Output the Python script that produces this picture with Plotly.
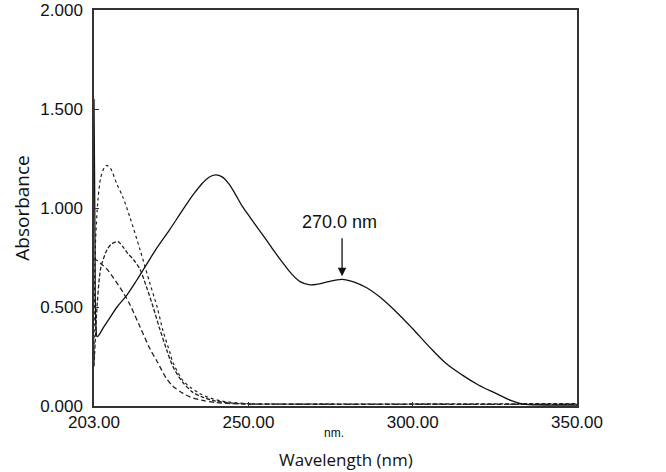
import plotly.graph_objects as go

# Solid spectrum
wl_solid = [203.0, 203.3, 203.6, 204.0, 206, 208, 210, 213, 216, 219, 222, 226, 229, 232, 234, 236, 238, 240, 242,
            244, 246, 248, 250.5, 253, 255.6, 258, 260.6, 263, 265.7, 268.7, 271, 274, 278.5, 282, 286, 290, 295,
            300, 305, 310, 315, 320, 325, 330, 333.5, 340, 350]
abs_solid = [1.55, 0.85, 0.40, 0.35, 0.40, 0.45, 0.50, 0.56, 0.635, 0.715, 0.795, 0.89, 0.965, 1.04, 1.085, 1.125, 1.155, 1.167, 1.157,
             1.123, 1.07, 1.012, 0.953, 0.895, 0.835, 0.778, 0.72, 0.67, 0.628, 0.612, 0.615, 0.627, 0.64, 0.627, 0.597, 0.55, 0.475,
             0.39, 0.30, 0.217, 0.157, 0.106, 0.066, 0.027, 0.009, 0.005, 0.005]

# Dotted spectrum
wl_dot = [203.0, 203.4, 204.2, 205, 206, 206.8, 208, 210, 211.8, 214, 217, 220, 222.2, 224, 226.1, 227, 230,
          232.2, 235, 237.4, 242, 250, 260, 280, 300, 320, 350]
abs_dot = [0.22, 0.80, 1.04, 1.15, 1.20, 1.215, 1.20, 1.12, 1.055, 0.95, 0.79, 0.62, 0.50, 0.38, 0.27, 0.22, 0.13,
           0.096, 0.065, 0.046, 0.025, 0.012, 0.01, 0.01, 0.01, 0.008, 0.008]

# Short-dashed spectrum
wl_dash = [203.0, 203.2, 204, 205.1, 207, 208.5, 210.3, 212, 213.3, 215, 217, 219, 221, 223, 225.2, 227, 230,
           233, 236, 240, 245, 250, 270, 300, 350]
abs_dash = [0.20, 0.27, 0.52, 0.70, 0.79, 0.82, 0.83, 0.80, 0.77, 0.74, 0.69, 0.60, 0.50, 0.39, 0.28, 0.20, 0.12,
            0.07, 0.045, 0.025, 0.015, 0.01, 0.01, 0.01, 0.012]

# Long-dashed spectrum
wl_ldash = [203.0, 203.15, 205, 207, 209, 211.8, 214, 217, 220, 222.2, 225, 227, 230, 232.2, 236, 240, 245, 250,
            300, 350]
abs_ldash = [0.25, 0.74, 0.72, 0.69, 0.645, 0.575, 0.51, 0.40, 0.29, 0.225, 0.14, 0.10, 0.065, 0.046, 0.028, 0.018,
             0.012, 0.01, 0.008, 0.008]

x_ticks = [203, 250, 300, 350]
x_tick_text = ["203.00", "250.00", "300.00", "350.00"]
y_ticks = [0, 0.5, 1.0, 1.5, 2.0]
y_tick_text = ["0.000", "0.500", "1.000", "1.500", "2.000"]

x_title = "Wavelength (nm)"
y_title = "Absorbance"
peak_label = "270.0 nm"
peak_x = 278.5
peak_y = 0.655

fig = go.Figure()
fig.add_trace(go.Scatter(x=wl_ldash, y=abs_ldash, mode="lines",
                         line=dict(color="#222", width=1.3, dash="5px,3px", shape="spline", smoothing=0.8)))
fig.add_trace(go.Scatter(x=wl_dash, y=abs_dash, mode="lines",
                         line=dict(color="#222", width=1.3, dash="4px,2px", shape="spline", smoothing=0.8)))
fig.add_trace(go.Scatter(x=wl_dot, y=abs_dot, mode="lines",
                         line=dict(color="#222", width=1.2, dash="dot", shape="spline", smoothing=0.8)))
fig.add_trace(go.Scatter(x=wl_solid, y=abs_solid, mode="lines",
                         line=dict(color="#111", width=1.3, shape="spline", smoothing=1.0)))

fig.add_annotation(x=peak_x, y=peak_y, ax=peak_x, ay=0.855, xref="x", yref="y", axref="x", ayref="y",
                   showarrow=True, arrowhead=2, arrowsize=1.3, arrowwidth=1.3, arrowcolor="#111", text="")
fig.add_annotation(x=277.6, y=0.93, xref="x", yref="y", text=peak_label, showarrow=False,
                   font=dict(family="Liberation Sans, Arial", size=18, color="#111"))
fig.add_annotation(x=0.497, y=-0.068, xref="paper", yref="paper", xanchor="center", yanchor="middle",
                   text="nm.", showarrow=False,
                   font=dict(family="Liberation Sans, Arial", size=12, color="#111"))
fig.add_annotation(x=0.522, y=-0.136, xref="paper", yref="paper", xanchor="center", yanchor="middle",
                   text=x_title, showarrow=False,
                   font=dict(family="Open Sans, Noto Sans", size=17, color="#111"))

fig.update_layout(
    width=666, height=472,
    margin=dict(l=94, r=89, t=10, b=66, autoexpand=False),
    paper_bgcolor="white", plot_bgcolor="white",
    showlegend=False,
    font=dict(family="Liberation Sans, Arial", size=17, color="#111"),
)
fig.update_xaxes(range=[203, 350], tickvals=x_ticks, ticktext=x_tick_text, automargin=False,
                 showgrid=False, zeroline=False, showline=True, linecolor="#333", linewidth=1.5, mirror=True,
                 ticks="inside", ticklen=4, tickcolor="#333", ticklabelstandoff=0,
                 tickfont=dict(family="Liberation Sans, Arial", size=17, color="#111"))
fig.update_yaxes(range=[0, 2.0], tickvals=y_ticks, ticktext=y_tick_text, automargin=False,
                 showgrid=False, zeroline=False, showline=True, linecolor="#333", linewidth=1.5, mirror=True,
                 ticks="inside", ticklen=5, tickcolor="#333", ticklabelstandoff=6,
                 tickfont=dict(family="Liberation Sans, Arial", size=17, color="#111"),
                 title=dict(text=y_title, standoff=6,
                            font=dict(family="Open Sans, Noto Sans", size=19, color="#111")))

fig.write_html("out.html", config={"displayModeBar": False},
               post_script="document.body.style.margin='0px';")
